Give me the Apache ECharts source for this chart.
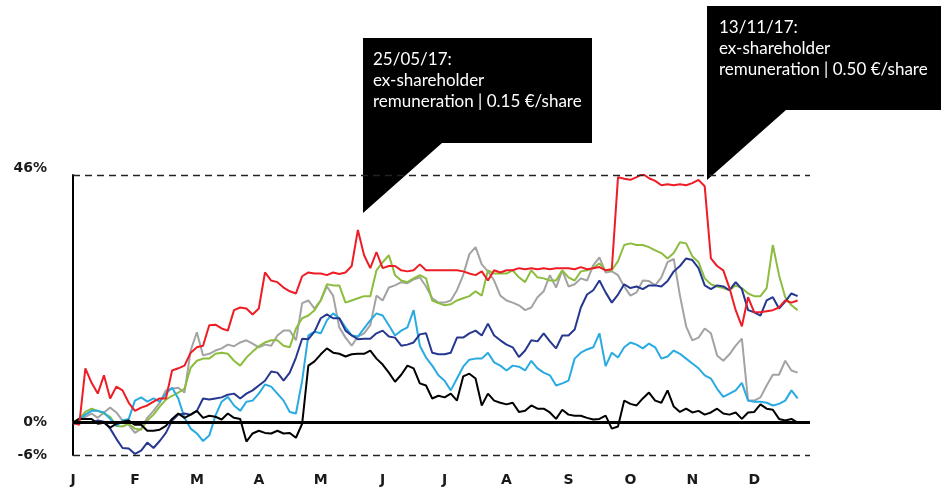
<!DOCTYPE html>
<html>
<head>
<meta charset="utf-8">
<script src="https://cdn.jsdelivr.net/npm/echarts@6/dist/echarts.min.js"></script>
<style>
  html, body { margin: 0; padding: 0; background: #fff; }
  #chart { width: 941px; height: 491px; }
</style>
</head>
<body>
<div id="chart"></div>
<script>
// month initials, one label every 10 samples
var months = ['J', 'F', 'M', 'A', 'M', 'J', 'J', 'A', 'S', 'O', 'N', 'D'];
var samplesPerMonth = 10;
var yTicks = [-6, 0, 46];

// % change since 1 Jan
var red = [0, -0.4, 10.1, 7.4, 5.4, 8.8, 4.5, 6.7, 6.0, 3.7,
  2.2, 2.8, 3.2, 3.9, 4.5, 4.5, 9.7, 10.1, 10.6, 13.0,
  14.0, 14.3, 18.1, 18.2, 17.5, 17.1, 20.9, 21.4, 21.2, 20.1,
  21.2, 27.9, 26.4, 26.1, 25.1, 24.4, 24.0, 27.2, 27.9, 27.7,
  27.7, 27.4, 27.9, 27.6, 27.9, 29.1, 35.8, 31.1, 28.7, 31.7,
  28.7, 29.1, 29.1, 28.3, 28.1, 28.3, 29.4, 28.3, 28.3, 28.3,
  28.3, 28.3, 28.3, 28.1, 27.7, 27.4, 28.1, 26.4, 28.3, 27.9,
  28.3, 28.3, 28.7, 28.5, 28.7, 28.5, 28.7, 28.5, 28.7, 28.7,
  28.7, 28.5, 28.9, 28.5, 28.7, 28.9, 28.3, 28.5, 45.6, 45.3,
  45.1, 45.6, 46.2, 45.4, 44.9, 44.1, 44.3, 44.1, 44.3, 44.1,
  44.5, 45.1, 43.9, 30.5, 29.1, 28.3, 25.0, 20.9, 17.9, 23.3,
  20.5, 20.5, 20.7, 20.9, 21.4, 22.7, 22.3, 22.7];

var green = [0, 0.7, 2.0, 2.6, 2.2, 1.7, 1.1, -0.6, -0.7, -0.2,
  -1.1, -1.3, 0.4, 1.5, 3.0, 4.3, 5.0, 5.6, 6.3, 10.2,
  11.5, 11.9, 11.9, 12.8, 13.0, 12.8, 11.5, 10.6, 12.1, 13.2,
  14.2, 14.9, 15.3, 15.3, 14.3, 14.0, 17.5, 19.4, 19.9, 20.9,
  22.7, 25.7, 25.5, 25.5, 22.3, 22.7, 23.1, 23.5, 23.5, 28.3,
  29.8, 31.1, 27.4, 26.4, 26.1, 26.8, 27.4, 26.8, 22.7, 22.2,
  21.8, 22.0, 22.7, 23.1, 23.5, 24.4, 23.6, 28.3, 27.7, 27.7,
  27.7, 28.3, 27.0, 26.1, 28.3, 27.0, 26.8, 26.4, 26.4, 28.3,
  27.0, 26.4, 28.1, 28.3, 28.7, 29.6, 28.3, 28.3, 30.0, 33.0,
  33.3, 33.0, 33.0, 32.6, 32.0, 31.5, 30.5, 31.5, 33.5, 33.3,
  30.9, 29.8, 26.8, 25.7, 25.3, 25.0, 24.6, 25.5, 25.0, 24.0,
  23.5, 23.5, 25.0, 33.0, 27.4, 23.3, 21.8, 20.9];

var grey = [0, 0.7, 1.1, 1.7, 0.9, 1.9, 2.8, 1.9, 0.4, -0.4,
  -1.9, -1.1, 0.9, 2.2, 3.7, 6.0, 6.3, 6.5, 5.6, 13.4,
  16.8, 12.5, 12.8, 13.4, 13.8, 14.5, 14.2, 14.9, 15.3, 14.7,
  14.0, 14.5, 14.3, 16.2, 17.1, 17.1, 15.3, 22.2, 22.7, 21.2,
  22.7, 25.3, 23.6, 17.7, 15.8, 14.3, 16.0, 16.6, 18.1, 23.6,
  22.7, 25.1, 25.5, 26.1, 25.9, 26.6, 27.0, 25.3, 23.1, 22.3,
  22.3, 22.7, 24.6, 27.4, 31.3, 32.6, 29.4, 28.1, 26.4, 23.6,
  22.7, 22.3, 21.8, 20.9, 21.4, 23.3, 24.4, 27.4, 25.1, 28.3,
  25.3, 25.7, 26.8, 26.4, 29.2, 30.7, 27.9, 28.1, 27.4, 25.3,
  23.6, 24.2, 26.4, 26.3, 25.5, 27.0, 29.8, 30.4, 23.6, 17.9,
  15.3, 15.8, 17.5, 16.6, 12.5, 11.5, 12.7, 14.3, 15.6, 4.1,
  4.1, 4.7, 6.9, 8.9, 8.9, 11.5, 9.7, 9.3];

var navy = [-0.2, 0, 0, 0, 0.4, 0.2, -1.1, -3.0, -4.7, -4.8,
  -5.8, -5.2, -3.7, -4.7, -3.4, -1.9, 0.4, 1.5, 1.7, 1.5,
  2.2, 4.5, 4.3, 4.5, 4.7, 5.2, 5.4, 4.5, 5.4, 6.0,
  6.9, 7.8, 9.5, 9.3, 7.8, 9.3, 12.1, 15.6, 15.5, 16.9,
  19.4, 20.1, 19.4, 19.4, 17.1, 16.2, 15.5, 15.6, 15.6, 16.6,
  17.1, 16.0, 15.8, 14.3, 14.5, 14.9, 16.4, 16.6, 13.0, 12.7,
  12.7, 13.0, 15.8, 15.8, 16.6, 17.1, 16.2, 18.4, 16.2, 15.3,
  14.5, 14.0, 12.2, 13.4, 15.3, 15.1, 16.6, 15.1, 13.8, 16.2,
  16.2, 17.3, 21.4, 23.8, 24.6, 26.4, 24.2, 22.3, 23.8, 25.7,
  25.0, 25.3, 24.8, 25.5, 25.5, 25.3, 26.3, 28.1, 29.1, 30.5,
  30.2, 28.7, 25.5, 24.8, 25.5, 25.3, 24.6, 26.1, 24.8, 20.9,
  20.5, 19.9, 22.7, 23.3, 21.2, 22.5, 24.0, 23.5];

var cyan = [-0.2, 0.6, 1.5, 2.2, 2.2, 1.9, 0.7, -0.6, 0.4, 0.7,
  4.1, 4.7, 3.9, 4.5, 3.9, 5.4, 6.5, 4.5, 0.9, -1.1,
  -2.0, -3.4, -2.4, 1.3, 3.9, 4.8, 3.2, 2.2, 3.9, 4.1,
  5.4, 7.1, 6.7, 5.4, 4.1, 2.0, 1.7, 7.8, 16.2, 16.9,
  16.6, 19.0, 20.3, 19.4, 17.7, 16.2, 16.0, 17.5, 19.0, 20.3,
  19.9, 18.1, 16.2, 17.1, 17.7, 20.9, 14.3, 12.1, 10.6, 8.8,
  7.8, 6.0, 8.2, 10.4, 11.7, 11.9, 11.9, 13.0, 11.2, 10.6,
  9.7, 10.6, 10.4, 9.7, 11.5, 10.1, 9.3, 8.8, 6.9, 7.3,
  7.8, 11.9, 13.0, 13.6, 14.0, 16.6, 10.5, 13.0, 12.1, 14.0,
  14.9, 14.5, 13.8, 14.7, 14.0, 11.9, 12.3, 13.4, 12.8, 11.9,
  11.0, 10.1, 8.8, 8.2, 6.3, 4.8, 5.4, 6.0, 7.4, 4.1,
  3.9, 3.9, 3.7, 3.2, 3.5, 4.1, 6.0, 4.5];

var black = [0, 0.7, 0.7, 0.7, -0.2, 0, -0.9, -0.2, 0.2, 0.4,
  -0.4, -0.4, -1.5, -1.5, -1.3, -0.6, 0.7, 1.7, 0.9, 1.5,
  2.2, 0.9, 1.3, 1.1, 0.6, 1.7, 0.9, 0.7, -3.5, -2.0,
  -1.5, -1.9, -2.0, -1.5, -2.0, -1.9, -2.8, -0.2, 10.6, 11.4,
  12.7, 13.8, 13.0, 12.8, 12.3, 12.7, 12.8, 12.8, 13.4, 11.9,
  10.8, 9.3, 7.6, 8.9, 10.6, 10.1, 7.3, 6.9, 4.5, 5.0,
  4.7, 5.4, 4.1, 8.6, 9.1, 8.2, 3.2, 5.4, 4.1, 3.7,
  3.4, 3.7, 2.0, 2.2, 3.2, 2.6, 2.6, 1.9, 0.7, 2.4,
  1.5, 1.3, 1.3, 0.9, 0.6, 0.7, 1.3, -1.1, -0.7, 4.1,
  3.5, 3.2, 4.5, 5.6, 4.1, 3.7, 6.0, 3.0, 2.0, 2.6,
  1.9, 2.2, 1.5, 1.9, 2.6, 1.7, 1.5, 1.9, 0.7, 1.9,
  2.0, 3.4, 2.6, 2.4, 0.7, 0.4, 0.7, 0];

var callout1 = '25/05/17:\nex-shareholder\nremuneration | 0.15 €/share';
var callout2 = '13/11/17:\nex-shareholder\nremuneration | 0.50 €/share';

var categories = [];
months.forEach(function (m, mi) {
  for (var k = 0; k < samplesPerMonth; k++) {
    categories.push(mi + '.' + k);
  }
});

var labelFont = 'DejaVu Sans';

function lineSeries(name, data, color) {
  return {
    name: name,
    type: 'line',
    data: data,
    symbol: 'none',
    lineStyle: { color: color, width: 2 },
    itemStyle: { color: color }
  };
}

var series = [
  lineSeries('grey', grey, '#a3a3a3'),
  lineSeries('green', green, '#8cbd3f'),
  lineSeries('cyan', cyan, '#29abe2'),
  lineSeries('navy', navy, '#26378f'),
  lineSeries('black', black, '#000000'),
  lineSeries('red', red, '#ee1d25')
];

series[0].markLine = {
  silent: true,
  symbol: 'none',
  label: { show: false },
  data: [
    { yAxis: 46, lineStyle: { color: '#222', width: 1.3, type: [7, 5] } },
    { yAxis: -6, lineStyle: { color: '#222', width: 1.3, type: [7, 5] } },
    { yAxis: 0, lineStyle: { color: '#000', width: 3, type: 'solid' } }
  ]
};

var myChart = echarts.init(document.getElementById('chart'));

var option = {
  animation: false,
  grid: {
    left: 73,
    right: 131,
    top: 175,
    bottom: 36
  },
  xAxis: {
    type: 'category',
    data: categories,
    boundaryGap: false,
    axisLine: { show: false },
    axisTick: { show: false },
    splitLine: { show: false },
    axisLabel: {
      interval: 0,
      margin: 18,
      color: '#1a1a1a',
      fontFamily: labelFont,
      fontWeight: 'bold',
      fontSize: 14,
      formatter: function (val, idx) {
        return idx % samplesPerMonth === 0 ? months[idx / samplesPerMonth] : '';
      }
    }
  },
  yAxis: {
    type: 'value',
    min: -6,
    max: 46,
    splitLine: { show: false },
    axisTick: { show: false },
    axisLine: { show: true, lineStyle: { color: '#000', width: 2 } },
    axisLabel: {
      customValues: yTicks,
      margin: 26,
      color: '#1a1a1a',
      fontFamily: labelFont,
      fontWeight: 'bold',
      fontSize: 14,
      formatter: function (v) {
        return v === 46 ? '{top|' + v + '%}' : v + '%';
      },
      rich: {
        top: {
          fontFamily: labelFont,
          fontWeight: 'bold',
          fontSize: 14,
          color: '#1a1a1a',
          padding: [0, 0, 14, 0]
        }
      }
    }
  },
  graphic: [
    {
      type: 'polygon',
      shape: { points: [[363, 38], [592, 38], [592, 143], [442, 143], [363, 213]] },
      style: { fill: '#000' }
    },
    {
      type: 'text',
      x: 373,
      y: 49,
      style: {
        text: callout1,
        fill: '#fff',
        fontFamily: 'Lato',
        fontSize: 17,
        lineHeight: 21,
        verticalAlign: 'top'
      }
    },
    {
      type: 'polygon',
      shape: { points: [[707, 6], [945, 6], [945, 110], [786, 110], [707, 180]] },
      style: { fill: '#000' }
    },
    {
      type: 'text',
      x: 719,
      y: 17,
      style: {
        text: callout2,
        fill: '#fff',
        fontFamily: 'Lato',
        fontSize: 17,
        lineHeight: 21,
        verticalAlign: 'top'
      }
    }
  ],
  series: series
};

myChart.setOption(option);
</script>
</body>
</html>
